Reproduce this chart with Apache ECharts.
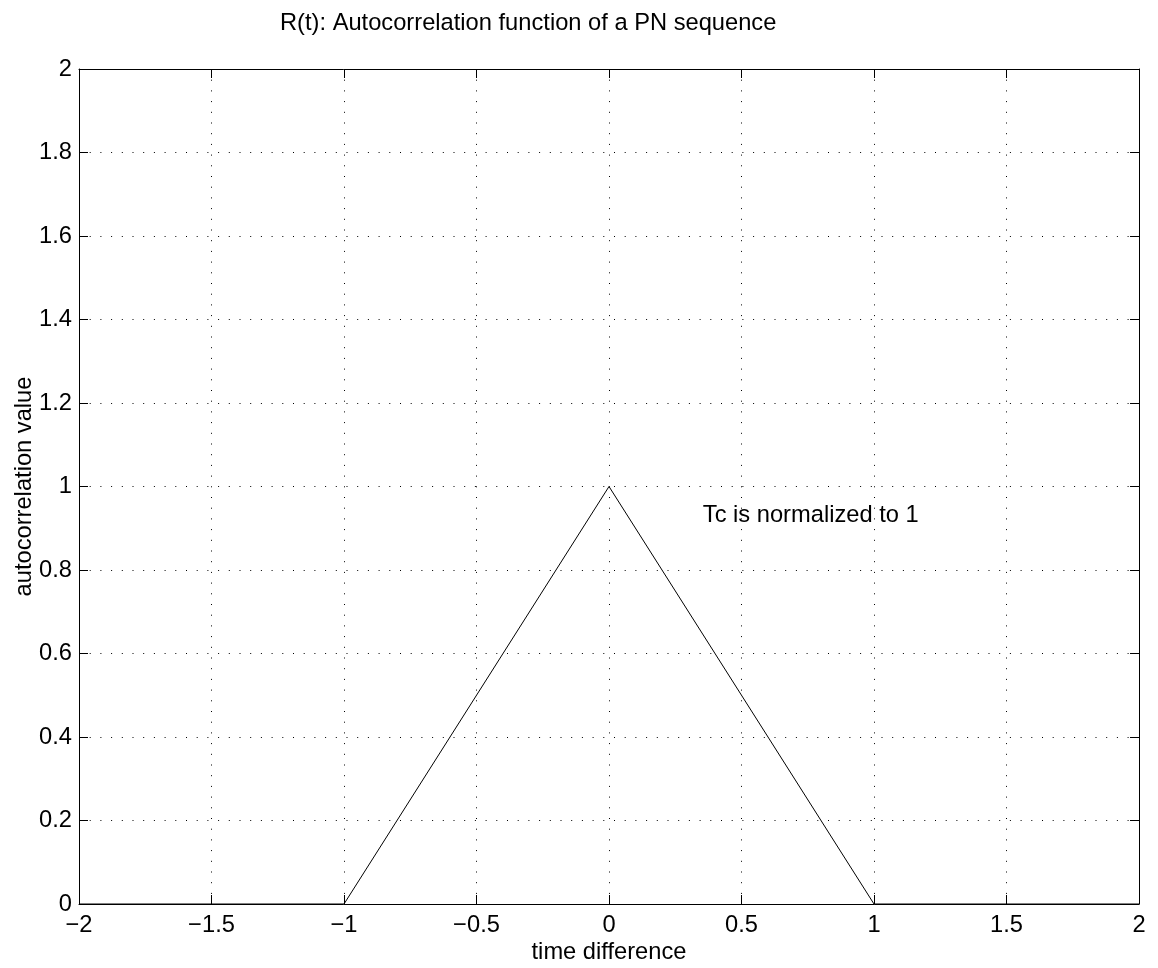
<!DOCTYPE html>
<html><head><meta charset="utf-8">
<script src="https://cdn.jsdelivr.net/npm/echarts@6/dist/echarts.min.js"></script>
<style>html,body{margin:0;padding:0;background:#fff}#c{width:1158px;height:968px}</style>
</head><body><div id="c"></div>
<script>
const xValues = [-2, -1, 0, 1, 2];
const yValues = [0, 0, 1, 0, 0];
const xTicks = [-2, -1.5, -1, -0.5, 0, 0.5, 1, 1.5, 2];
const yTicks = [0, 0.2, 0.4, 0.6, 0.8, 1, 1.2, 1.4, 1.6, 1.8, 2];
const titleText = 'R(t): Autocorrelation function of a PN sequence';
const xName = 'time difference';
const yName = 'autocorrelation value';
const noteText = 'Tc is normalized to 1';
const notePos = [0.354, 0.93];

const font = 'Liberation Sans, Arial, Helvetica, sans-serif';
const fs = 23.7;
const fmt = v => String(v).replace('-', '\u2212');
const chart = echarts.init(document.getElementById('c'), null, {renderer: 'canvas'});
const tickCommon = {show: true, inside: true, length: 9, lineStyle: {color: '#000', width: 1}};
const gridLine = {show: true, lineStyle: {color: '#000', width: 1, type: [1, 9.7]}};
chart.setOption({
  animation: false,
  backgroundColor: '#fff',
  title: {text: titleText, left: 275, top: 6, textStyle: {fontFamily: font, fontSize: fs, fontWeight: 'normal', color: '#000'}},
  grid: {left: 79, right: 19, top: 69, bottom: 64, containLabel: false, outerBoundsMode: 'none'},
  xAxis: [{
    type: 'value', min: -2, max: 2, interval: 0.5,
    name: xName, nameLocation: 'middle', nameGap: 36, nameMoveOverlap: false,
    nameTextStyle: {fontFamily: font, fontSize: fs, color: '#000'},
    axisLine: {show: true, onZero: false, lineStyle: {color: '#000', width: 1}},
    axisTick: tickCommon,
    axisLabel: {fontFamily: font, fontSize: fs, color: '#000', margin: 9, formatter: fmt, showMinLabel: true, showMaxLabel: true},
    splitLine: gridLine
  }, {
    type: 'value', min: -2, max: 2, interval: 0.5, position: 'top',
    axisLine: {show: true, onZero: false, lineStyle: {color: '#000', width: 1}},
    axisTick: tickCommon, axisLabel: {show: false}, splitLine: {show: false}
  }],
  yAxis: [{
    type: 'value', min: 0, max: 2, interval: 0.2,
    name: yName, nameLocation: 'middle', nameGap: 43, nameRotate: 90, nameMoveOverlap: false,
    nameTextStyle: {fontFamily: font, fontSize: fs, color: '#000'},
    axisLine: {show: true, onZero: false, lineStyle: {color: '#000', width: 1}},
    axisTick: tickCommon,
    axisLabel: {fontFamily: font, fontSize: fs, color: '#000', margin: 7, formatter: v => fmt(+v.toFixed(1))},
    splitLine: gridLine
  }, {
    type: 'value', min: 0, max: 2, interval: 0.2, position: 'right',
    axisLine: {show: true, onZero: false, lineStyle: {color: '#000', width: 1}},
    axisTick: tickCommon, axisLabel: {show: false}, splitLine: {show: false}
  }],
  series: [{
    type: 'line',
    data: xValues.map((x, i) => [x, yValues[i]]),
    symbol: 'none',
    lineStyle: {color: '#000', width: 1},
    z: 5
  }, {
    type: 'scatter',
    data: [notePos],
    symbolSize: 0,
    itemStyle: {opacity: 1},
    label: {show: true, position: 'right', distance: 0, formatter: noteText, fontFamily: font, fontSize: fs, color: '#000', opacity: 1},
    silent: true
  }]
});
</script></body></html>
